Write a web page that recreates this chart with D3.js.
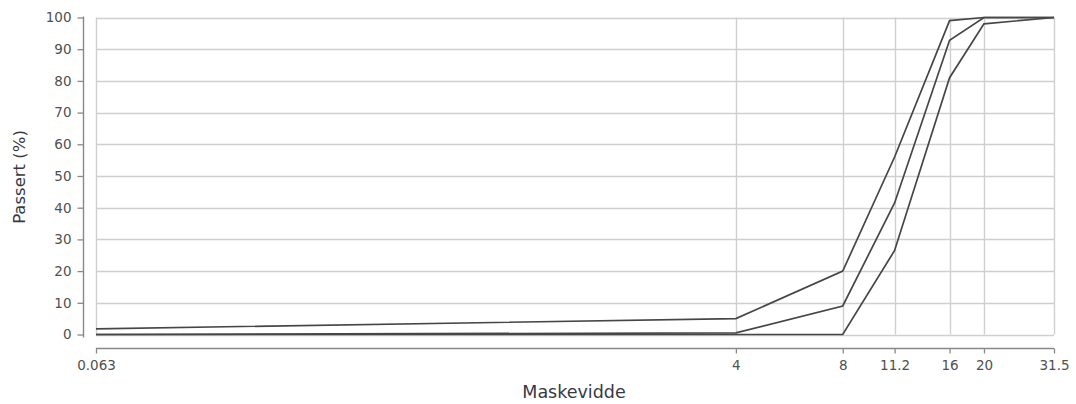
<!DOCTYPE html>
<html><head><meta charset="utf-8">
<script src="https://cdn.jsdelivr.net/npm/d3@7"></script>
<style>body{margin:0;background:#fff;} svg{display:block;font-family:"DejaVu Sans",Verdana,sans-serif;}</style>
</head><body>
<svg id="c" width="1076" height="404"></svg>
<script>
const sieves = [0.063, 4, 8, 11.2, 16, 20, 31.5];
const xTickLabels = ["0.063", "4", "8", "11.2", "16", "20", "31.5"];
const yTicks = [0, 10, 20, 30, 40, 50, 60, 70, 80, 90, 100];
const upperCurve = [1.8, 5, 20, 56, 99, 100, 100];
const middleCurve = [0, 0.5, 9, 41.5, 92.8, 100, 100];
const lowerCurve = [0, 0, 0, 26.5, 81, 98, 100];
const seriesList = [upperCurve, middleCurve, lowerCurve];

const svg = d3.select("#c");
const x = d3.scaleLog().domain([0.063, 31.5]).range([96, 1054]);
const y = d3.scaleLinear().domain([0, 100]).range([334.5, 17.5]);

// horizontal grid
svg.append("g").selectAll("line").data(yTicks).join("line")
  .attr("x1", 96).attr("x2", 1054)
  .attr("y1", d => Math.round(y(d)) + 0.5).attr("y2", d => Math.round(y(d)) + 0.5)
  .attr("stroke", "#cfcfcf").attr("stroke-width", 1.4);
// vertical grid
svg.append("g").selectAll("line").data(sieves).join("line")
  .attr("x1", d => Math.round(x(d)) + 0.5).attr("x2", d => Math.round(x(d)) + 0.5)
  .attr("y1", y(100)).attr("y2", y(0))
  .attr("stroke", "#cfcfcf").attr("stroke-width", 1.4);

// y axis
const yAxis = d3.axisLeft(y).tickValues(yTicks).tickSize(6).tickPadding(6).tickFormat(d3.format("d"));
const gy = svg.append("g").attr("transform", "translate(83.5,0)").call(yAxis);
gy.select(".domain").attr("d", `M-0,${y(100)-1}V${y(0)+3}`).attr("stroke", "#888").attr("stroke-width", 1.4);
gy.selectAll(".tick line").attr("stroke", "#888").attr("stroke-width", 1.3);
gy.selectAll("text").attr("font-size", 13.5).attr("fill", "#505050").attr("font-family", "DejaVu Sans, sans-serif");

// x axis
const xAxis = d3.axisBottom(x).tickValues(sieves).tickSize(5).tickPadding(7)
  .tickFormat((d, i) => xTickLabels[i]);
const gx = svg.append("g").attr("transform", "translate(0,348.5)").call(xAxis);
gx.select(".domain").attr("d", `M96,0H1054`).attr("stroke", "#888").attr("stroke-width", 1.4);
gx.selectAll(".tick line").attr("stroke", "#888").attr("stroke-width", 1.3);
gx.selectAll("text").attr("font-size", 13.5).attr("fill", "#505050").attr("font-family", "DejaVu Sans, sans-serif");

// lines
const line = d3.line().x((d, i) => x(sieves[i])).y(d => y(d));
svg.append("g").selectAll("path").data(seriesList).join("path")
  .attr("d", line).attr("fill", "none").attr("stroke", "#464646").attr("stroke-width", 1.7);

// titles
svg.append("text").attr("x", 574).attr("y", 398).attr("text-anchor", "middle")
  .attr("font-size", 17.5).attr("fill", "#383844").text("Maskevidde");
svg.append("text").attr("transform", "translate(25,177) rotate(-90)").attr("text-anchor", "middle")
  .attr("font-size", 16.5).attr("fill", "#383844").text("Passert (%)");
</script>
</body></html>
